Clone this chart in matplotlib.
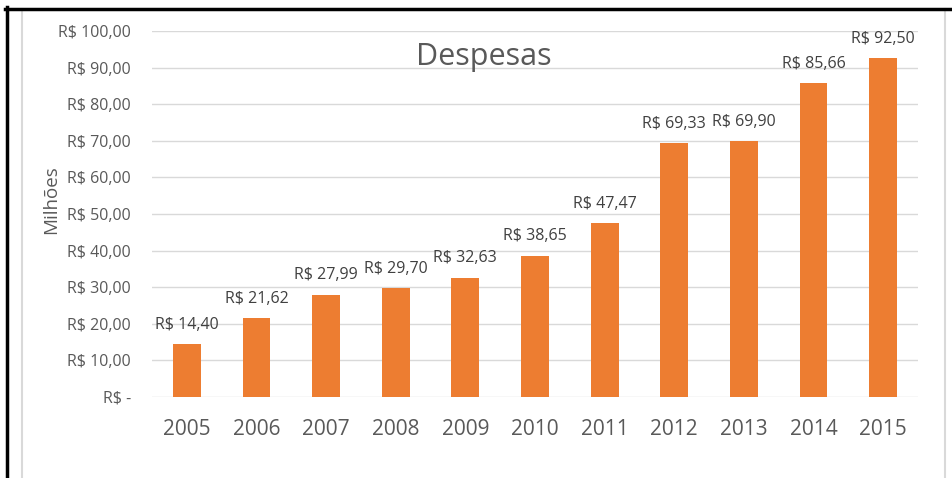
import matplotlib
matplotlib.use('Agg')
import matplotlib.pyplot as plt
from matplotlib.lines import Line2D

anos = ['2005', '2006', '2007', '2008', '2009', '2010', '2011', '2012', '2013', '2014', '2015']
despesas = [14.40, 21.62, 27.99, 29.70, 32.63, 38.65, 47.47, 69.33, 69.90, 85.66, 92.50]
y_ticks = [0, 10, 20, 30, 40, 50, 60, 70, 80, 90, 100]

plt.rcParams['font.family'] = ['Open Sans', 'DejaVu Sans']

W, H = 952, 478
fig = plt.figure(figsize=(W / 100, H / 100), dpi=100)
ax = fig.add_axes([152 / W, 1 - 397 / H, (918 - 152) / W, (397 - 31) / H])

x = list(range(len(anos)))
ax.bar(x, despesas, width=0.40, color='#ED7D31', zorder=3)

# rótulos de dados
for xi, v in zip(x, despesas):
    txt = 'R$ ' + ('%.2f' % v).replace('.', ',')
    ax.annotate(txt, (xi, v), xytext=(0, 8), textcoords='offset points',
                ha='center', va='bottom', fontsize=11.5, color='#404040')

ax.set_xlim(-0.5, len(anos) - 0.5)
ax.set_ylim(0, 100)
ax.set_yticks(y_ticks)
ax.set_yticklabels(['R$ -' if t == 0 else 'R$ %d,00' % t for t in y_ticks])
ax.set_xticks(x)
ax.set_xticklabels(anos)
ax.tick_params(axis='y', length=0, pad=15, labelsize=11.5, labelcolor='#595959')
ax.tick_params(axis='x', length=0, pad=16, labelsize=15, labelcolor='#595959')
ax.grid(axis='y', color='#D9D9D9', linewidth=1, zorder=0)
for s in ax.spines.values():
    s.set_visible(False)

ax.set_ylabel('Milhões', fontsize=13.5, color='#595959')
ax.yaxis.set_label_coords(-0.12, 0.54)

fig.text(484 / W, 1 - 57 / H, 'Despesas', ha='center', va='center',
         fontsize=22, color='#595959')

# bordas do gráfico
fig.add_artist(Line2D([21.5 / W, 21.5 / W], [0, 1 - 9 / H], color='#D9D9D9', lw=1.5))
fig.add_artist(Line2D([945 / W, 945 / W], [0, 1 - 9 / H], color='#D9D9D9', lw=1.5))
fig.add_artist(Line2D([6.5 / W, 6.5 / W], [0, 1 - 7 / H], color='black', lw=2.5))
fig.add_artist(Line2D([5 / W, 1], [1 - 8.5 / H, 1 - 8.5 / H], color='black', lw=2.5))

fig.savefig('out.png', dpi=100)
